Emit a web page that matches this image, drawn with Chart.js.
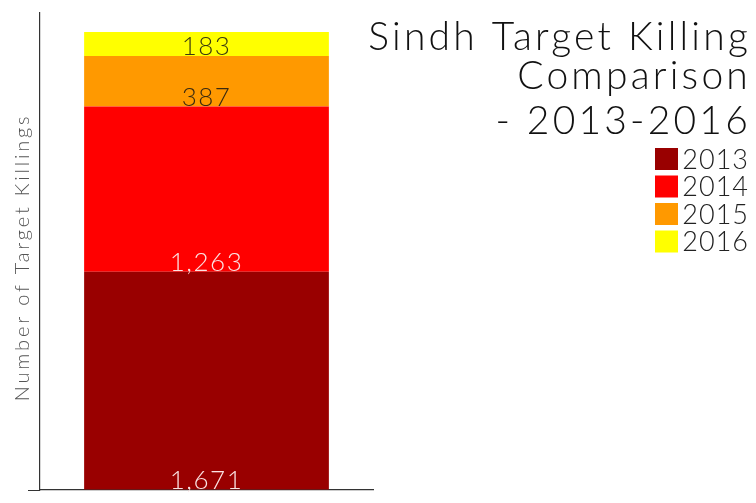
<!DOCTYPE html>
<html>
<head>
<meta charset="utf-8">
<script src="https://cdn.jsdelivr.net/npm/chart.js@4/dist/chart.umd.min.js"></script>
<style>
  html, body { margin: 0; padding: 0; background: #fff; }
  #wrap { width: 756px; height: 503px; }
</style>
</head>
<body>
<div id="wrap"><canvas id="c"></canvas></div>
<script>
const categories = [""];
const years = ["2013", "2014", "2015", "2016"];
const killings = [1671, 1263, 387, 183];
const colors = ["#990000", "#ff0000", "#ff9900", "#ffff00"];
const labelColors = ["#fbe3e3", "#fbe3e3", "#3a2a10", "#3a3a10"];
const titleLines = ["Sindh Target Killing", "Comparison", "- 2013-2016"];
const yTitle = "Number of Target Killings";

const FONT = "Lato, 'Open Sans', sans-serif";

// value labels sitting on the bottom of each segment
const segmentLabels = {
  id: "segmentLabels",
  afterDatasetsDraw(chart) {
    const ctx = chart.ctx;
    ctx.save();
    ctx.font = "300 26px " + FONT;
    ctx.letterSpacing = "1.5px";
    ctx.textAlign = "center";
    ctx.textBaseline = "alphabetic";
    chart.data.datasets.forEach((ds, i) => {
      const bar = chart.getDatasetMeta(i).data[0];
      ctx.fillStyle = labelColors[i];
      ctx.fillText(ds.data[0].toLocaleString("en-US"), bar.x, bar.base - 1);
    });
    ctx.restore();
  }
};

// axis title, chart title and legend
const sideText = {
  id: "sideText",
  afterDraw(chart) {
    const ctx = chart.ctx;
    const area = chart.chartArea;
    ctx.save();
    ctx.translate(23, (area.top + area.bottom) / 2 + 6);
    ctx.rotate(-Math.PI / 2);
    ctx.font = "300 20px " + FONT;
    ctx.letterSpacing = "2.8px";
    ctx.fillStyle = "#555";
    ctx.textAlign = "center";
    ctx.textBaseline = "middle";
    ctx.fillText(yTitle, 0, 0);
    ctx.restore();

    const right = 748;
    ctx.save();
    ctx.fillStyle = "#111";
    ctx.textAlign = "right";
    ctx.textBaseline = "alphabetic";
    ctx.font = "300 39px " + FONT;
    ctx.letterSpacing = "3.2px";
    const baselines = [50, 89, 134];
    titleLines.forEach((t, i) => ctx.fillText(t, right + 3, baselines[i]));

    ctx.font = "300 27px " + FONT;
    ctx.letterSpacing = "1px";
    ctx.textBaseline = "middle";
    chart.data.datasets.forEach((ds, i) => {
      const y = 159 + i * 27.5;
      ctx.fillStyle = ds.backgroundColor;
      ctx.fillRect(655, y - 11, 23, 22);
      ctx.fillStyle = "#222";
      ctx.fillText(ds.label, right + 1, y + 1);
    });
    ctx.restore();
  }
};

new Chart(document.getElementById("c"), {
  type: "bar",
  data: {
    labels: categories,
    datasets: years.map((y, i) => ({
      label: y,
      data: [killings[i]],
      backgroundColor: colors[i],
      borderWidth: 0,
      barPercentage: 0.735,
      categoryPercentage: 1
    }))
  },
  options: {
    responsive: true,
    maintainAspectRatio: false,
    animation: false,
    layout: { padding: { top: 13, right: 383, bottom: 5, left: 0 } },
    plugins: {
      legend: { display: false },
      title: { display: false },
      tooltip: { enabled: false }
    },
    scales: {
      x: {
        stacked: true,
        grid: { display: false },
        ticks: { display: false },
        border: { display: true, color: "#333", width: 1.2 }
      },
      y: {
        stacked: true,
        min: 0,
        max: 3650,
        afterFit(scale) { scale.width = 40; },
        grid: {
          drawOnChartArea: false,
          tickLength: 12,
          color: (c) => (c.tick && c.tick.value === 0 ? "#333" : "transparent")
        },
        ticks: { display: false },
        border: { display: true, color: "#333", width: 1.2 }
      }
    }
  },
  plugins: [segmentLabels, sideText]
});
</script>
</body>
</html>
